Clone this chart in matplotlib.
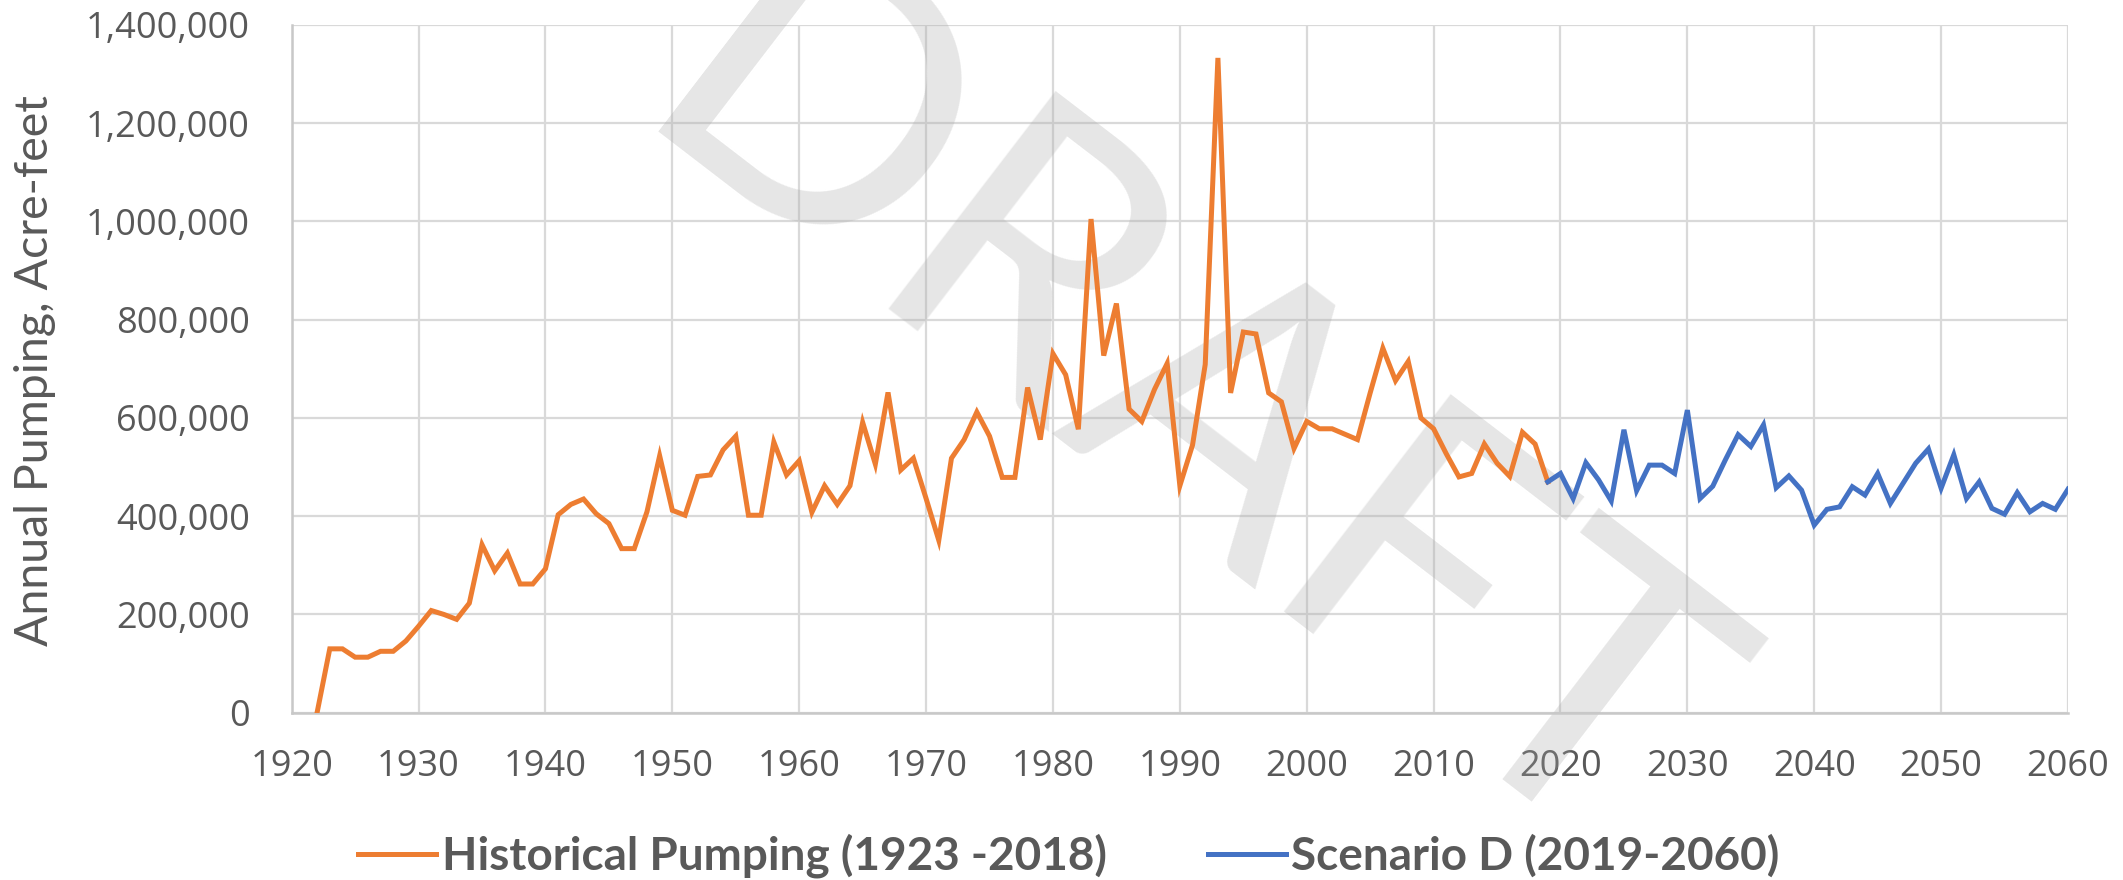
import numpy as np
import matplotlib
matplotlib.use("Agg")
import matplotlib.pyplot as plt

# historical pumping, acre-feet
hist_years = list(range(1922, 2020))
hist_vals = [
    0, 130000, 130000, 113000, 113000, 125000, 125000, 146000, 176000, 208000,      # 1922-1931
    200000, 190000, 223000, 342000, 289000, 325000, 262000, 262000, 293000, 403000,  # 1932-1941
    424000, 435000, 405000, 385000, 334000, 334000, 409000, 523000, 412000, 402000,  # 1942-1951
    481000, 484000, 535000, 563000, 402000, 402000, 551000, 484000, 513000, 408000,  # 1952-1961
    462000, 424000, 462000, 591000, 506000, 652000, 494000, 518000, 436000, 351000,  # 1962-1971
    518000, 556000, 612000, 563000, 479000, 479000, 662000, 556000, 731000, 688000,  # 1972-1981
    577000, 1005000, 727000, 833000, 618000, 593000, 658000, 711000, 462000, 545000, # 1982-1991
    709000, 1333000, 651000, 775000, 771000, 651000, 633000, 538000, 593000, 578000, # 1992-2001
    578000, 567000, 556000, 651000, 742000, 676000, 715000, 600000, 578000, 527000,  # 2002-2011
    480000, 487000, 547000, 508000, 481000, 571000, 547000, 470000,                  # 2012-2019
]

# scenario D projection
scen_years = list(range(2019, 2061))
scen_vals = [
    470000, 487000, 436000, 509000, 474000, 431000, 576000, 452000, 504000, 504000,  # 2019-2028
    487000, 616000, 436000, 461000, 515000, 566000, 542000, 586000, 458000, 482000,  # 2029-2038
    453000, 382000, 414000, 419000, 460000, 443000, 487000, 426000, 467000, 508000,  # 2039-2048
    537000, 457000, 525000, 436000, 470000, 416000, 404000, 448000, 409000, 426000,  # 2049-2058
    414000, 455000,                                                                  # 2059-2060
]

hist_label = "Historical Pumping (1923 -2018)"
scen_label = "Scenario D (2019-2060)"
ylabel = "Annual Pumping, Acre-feet"

txt = "#595959"
narrow = ["Lato", "DejaVu Sans"]
plt.rcParams["font.family"] = ["Open Sans", "DejaVu Sans"]

fig = plt.figure(figsize=(21.23, 8.8), dpi=100)
ax = fig.add_axes([291.7 / 2123, 167.3 / 880, (2068 - 291.7) / 2123, (855 - 167.3) / 880])

ax.plot(hist_years, hist_vals, color="#ED7D31", lw=3.6, label=hist_label, zorder=3,
        solid_joinstyle="miter")
ax.plot(scen_years, scen_vals, color="#4472C4", lw=3.6, label=scen_label, zorder=3,
        solid_joinstyle="miter")

ax.set_xlim(1920, 2060)
ax.set_ylim(0, 1400000)
ax.set_xticks(np.arange(1920, 2061, 10))
ax.set_yticks(np.arange(0, 1400001, 200000))
ax.yaxis.set_major_formatter(matplotlib.ticker.FuncFormatter(lambda v, p: f"{int(v):,}"))
ax.tick_params(length=0, labelsize=26, labelcolor=txt)
ax.tick_params(axis="y", pad=30)
ax.tick_params(axis="x", pad=26)

ax.set_axisbelow(True)
ax.grid(True, color="#d9d9d9", lw=1.6)
for s in ["top", "right"]:
    ax.spines[s].set_visible(False)
for s in ["left", "bottom"]:
    ax.spines[s].set_color("#c8c8c8")
    ax.spines[s].set_linewidth(1.8)

fig.text(35 / 2123, 1 - 371 / 880, ylabel, rotation=90, ha="center", va="center",
         fontsize=33.5, color=txt, family=narrow)

# watermark
ax.text(1176 / 2123, 1 - 420 / 880, "DRAFT", transform=fig.transFigure, rotation=-37.5,
        ha="center", va="center", rotation_mode="anchor", fontsize=275,
        family=narrow, color="#a6a6a6", alpha=0.28, zorder=2, clip_on=False)

leg = fig.legend(loc="center", bbox_to_anchor=(0.5035, 24 / 880), ncol=2, frameon=False,
                 handlelength=1.7, handletextpad=0.12, columnspacing=2.2,
                 prop={"family": narrow, "weight": "bold", "size": 33})
for t in leg.get_texts():
    t.set_color(txt)

fig.savefig("out.png", dpi=100, facecolor="white")
